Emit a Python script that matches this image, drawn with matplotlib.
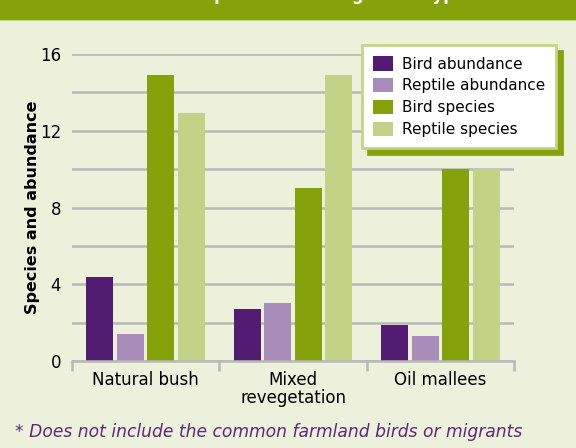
import matplotlib
matplotlib.use("Agg")
import matplotlib.pyplot as plt
import numpy as np
from matplotlib.patches import Rectangle

categories = ["Natural bush", "Mixed\nrevegetation", "Oil mallees"]
series_names = ["Bird abundance", "Reptile abundance", "Bird species", "Reptile species"]
bird_abundance = [4.4, 2.7, 1.9]
reptile_abundance = [1.4, 3.0, 1.3]
bird_species = [14.9, 9.0, 10.0]
reptile_species = [12.9, 14.9, 10.0]
colors = ["#521C72", "#A88DBA", "#86A20A", "#C4D286"]
yticks = [0, 4, 8, 12, 16]

BG = "#EDF0DA"
GREEN = "#86A20A"

plt.rcParams['font.family'] = ['DejaVu Sans']

fig = plt.figure(figsize=(5.76, 4.48), dpi=100, facecolor=BG)

# top band
fig.patches.append(Rectangle((0, 1 - 20 / 448), 1, 20 / 448, transform=fig.transFigure,
                             facecolor=GREEN, edgecolor='none', zorder=0))
fig.patches.append(Rectangle((0, 1 - 21.5 / 448), 1, 1.5 / 448, transform=fig.transFigure,
                             facecolor="#C5D38A", edgecolor='none', zorder=0))
fig.text(0.5, 1.0, "Birds and reptiles in the regrowth types", color='white',
         fontsize=12, fontweight='bold', ha='center', va='baseline')

ax = fig.add_axes([72 / 576, 1 - 361 / 448, (514 - 72) / 576, (361 - 54) / 448])
ax.set_facecolor(BG)

x = np.arange(len(categories))
data = [bird_abundance, reptile_abundance, bird_species, reptile_species]
spacing = 0.207
width = 0.184
for i, (vals, c, name) in enumerate(zip(data, colors, series_names)):
    ax.bar(x + (i - 1.5) * spacing, vals, width=width, color=c, label=name, zorder=3)

ax.set_xlim(-0.5, 2.5)
ax.set_ylim(0, 16)
ax.set_yticks(yticks)
ax.set_yticks(np.arange(0, 17, 2), minor=True)
ax.grid(axis='y', which='both', color='#B8B8B8', linewidth=1.8, zorder=0)
ax.tick_params(axis='y', which='both', length=0, labelsize=12, pad=8)
ax.set_xticks(x)
ax.set_xticklabels(categories, fontsize=12, linespacing=1.05)
ax.set_xticks([-0.5, 0.5, 1.5, 2.5], minor=True)
ax.tick_params(axis='x', which='major', length=0, pad=7)
ax.tick_params(axis='x', which='minor', length=7, width=1.8, color='#B8B8B8', direction='out')
for s in ['top', 'right', 'left']:
    ax.spines[s].set_visible(False)
ax.spines['bottom'].set_color('#B8B8B8')
ax.spines['bottom'].set_linewidth(1.8)
ax.spines['bottom'].set_zorder(4)

ax.set_ylabel("Species and abundance", fontsize=11.5, fontweight='bold')
ax.yaxis.set_label_coords((40 - 72) / 442, 0.5)

leg = ax.legend(loc='upper left', bbox_to_anchor=(362 / 576, 1 - 45 / 448),
                bbox_transform=fig.transFigure, borderaxespad=0, fontsize=11,
                frameon=True, fancybox=False, framealpha=1, edgecolor='#C5D38A',
                facecolor='white', handlelength=1.3, handleheight=1.05,
                handletextpad=0.55, labelspacing=0.42, borderpad=0.75,
                shadow={'ox': 4, 'oy': -4, 'color': GREEN, 'alpha': 1})
leg.get_frame().set_linewidth(2)
leg.set_zorder(10)

fig.text(15 / 576, 1 - 432 / 448, "* Does not include the common farmland birds or migrants",
         color="#5A2A7A", fontsize=12.3, fontstyle='italic', ha='left', va='center')

fig.savefig("out.png", dpi=100, facecolor=BG)
